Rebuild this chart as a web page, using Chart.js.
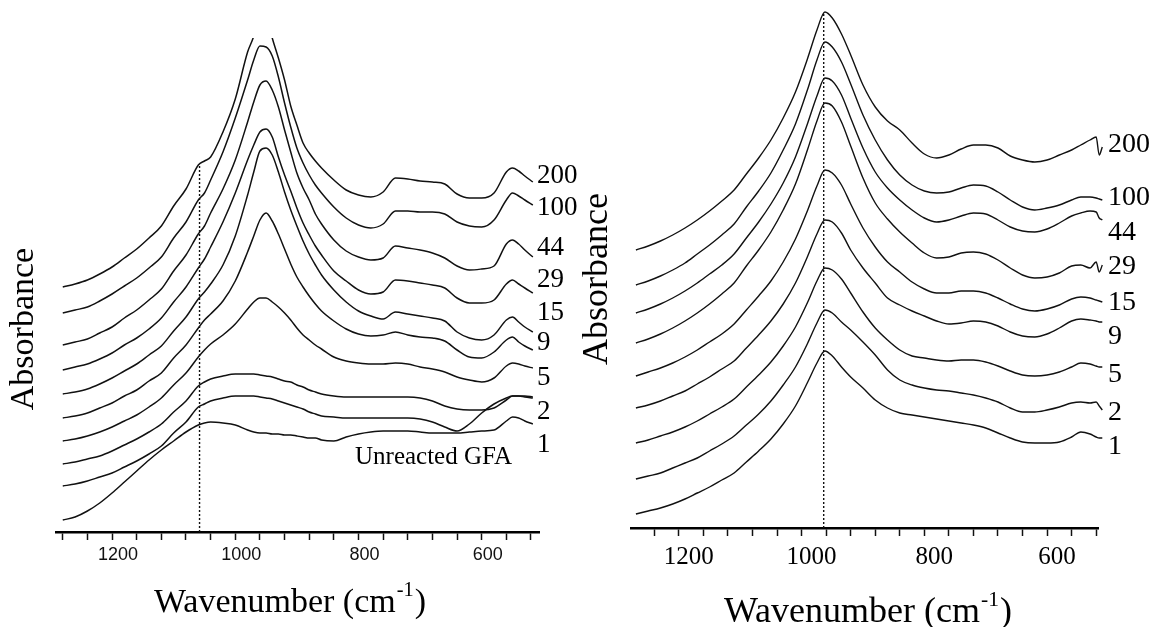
<!DOCTYPE html>
<html><head><meta charset="utf-8">
<script src="https://cdn.jsdelivr.net/npm/chart.js@4.4.1/dist/chart.umd.min.js"></script>
<style>
html,body{margin:0;padding:0;background:#fff;}
#wrap{position:relative;width:1165px;height:627px;overflow:hidden;background:#fff;}
#c1{position:absolute;left:0;top:0;}
#c2{position:absolute;left:582px;top:0;}
</style></head><body>
<div id="wrap">
<canvas id="c1" width="582" height="627"></canvas>
<canvas id="c2" width="583" height="627"></canvas>
</div>
<script>
// ---------- LEFT PANEL DATA (offset-stacked absorbance, arbitrary units) ----------
const leftWavenumbers = [1280,1260,1240,1220,1200,1180,1160,1140,1120,1100,1080,1060,1050,1040,1020,1000,980,970,960,950,940,930,920,910,900,890,880,870,860,840,820,800,780,760,740,720,700,680,660,640,620,600,580,560,550,540,530,517];
const left_200 = [245,248,252,258,265,274,283,294,306,326,343,367,371,375,400,433,480,496,522,518,494,474,452,426,407,389,379,371,364,352,342,337,335,340,354,353,351,350,348,338,334,334,339,360,364,361,356,350];
const left_100 = [219,222,225,231,238,246,254,264,275,294,310,332,339,352,380,414,452,472,486,485,476,455,429,405,384,369,357,347,339,325,314,307,304,308,321,321,320,320,318,310,306,305,312,332,339,336,332,327];
const left_44  = [187,190,193,199,205,214,222,232,243,261,277,298,306,319,343,372,410,430,447,451,442,425,402,380,359,344,332,318,308,292,281,275,272,274,286,284,282,279,274,266,262,263,266,288,292,288,282,275];
const left_29  = [162,165,168,173,179,187,194,203,214,230,245,264,273,285,310,339,372,387,400,403,395,375,357,341,324,309,297,286,277,261,251,242,238,240,252,251,249,247,244,234,229,229,232,248,252,248,244,239];
const left_15  = [138,140,143,148,154,161,168,177,186,201,215,233,240,248,267,296,337,360,381,384,377,360,340,322,306,291,278,267,257,242,230,221,216,213,220,218,216,214,211,200,194,192,197,212,215,210,205,200];
const left_9   = [114,116,119,124,129,136,142,151,159,174,187,204,212,218,231,251,280,296,312,319,311,298,283,268,255,245,236,228,221,211,203,198,196,197,200,197,195,194,191,182,175,174,180,192,195,190,186,182];
const left_5   = [91,93,96,100,105,111,117,125,134,147,159,175,182,188,197,208,223,230,234,234,230,225,219,212,204,197,192,187,183,175,171,169,168,168,169,168,165,163,160,155,152,150,154,166,169,168,166,164];
const left_2   = [68,70,73,76,81,87,93,100,108,120,131,146,150,153,156,158,158,158,157,156,155,153,151,150,147,145,142,140,138,136,135,135,135,135,135,135,134,131,126,123,122,122,124,132,136,136,135,134];
const left_1   = [46,48,51,55,59,65,71,78,86,99,110,125,128,131,134,136,136,136,135,134,133,131,129,127,125,123,120,118,116,115,114,114,114,114,114,114,113,110,105,101,108,119,128,134,136,136,136,135];
const left_GFA = [12,15,21,29,39,50,61,72,82,91,100,107,109,110,109,107,102,100,99,99,98,98,97,97,96,95,94,94,92,91,95,98,100,101,101,101,100,99,99,99,100,101,102,111,115,114,111,108];
const leftSeriesLabels = ['200','100','44','29','15','9','5','2','1'];
const leftTickValues = [1280,1240,1200,1160,1120,1080,1040,1000,960,920,880,840,800,760,720,680,640,600,560,520];
const leftMarker = 1058;      // dotted reference line (cm-1)
const leftMarkerTop = 367;    // height where it meets the top spectrum

// ---------- RIGHT PANEL DATA ----------
const rightWavenumbers = [1270,1250,1230,1210,1190,1170,1150,1130,1110,1090,1070,1050,1030,1010,990,975,962,950,935,920,900,880,860,840,820,800,780,760,740,720,700,680,660,640,620,600,580,560,545,530,520,515,510];
const right_200 = [278,282,287,293,300,308,317,327,338,354,370,388,410,436,470,498,516,510,494,473,443,421,407,398,385,374,370,373,379,383,383,380,372,368,366,368,373,378,383,388,391,373,381];
const right_100 = [243,247,252,258,265,274,283,293,304,321,337,355,378,404,439,468,486,481,466,444,413,388,368,353,343,337,335,336,340,343,342,336,328,321,318,320,323,328,331,331,330,329,328];
const right_44  = [215,219,224,230,237,245,254,263,274,290,306,324,345,371,405,432,450,447,433,410,380,356,340,328,318,310,306,308,312,315,314,308,301,297,296,299,305,312,315,317,316,310,308];
const right_29  = [185,189,194,200,207,215,224,234,245,262,278,296,318,344,379,407,425,422,406,382,350,325,309,296,285,275,270,271,275,276,274,268,260,253,250,251,255,262,263,260,266,256,263];
const right_15  = [152,156,160,165,171,178,186,194,204,218,232,247,266,289,318,342,358,355,343,324,300,281,266,256,246,239,235,235,237,237,235,230,224,219,217,219,223,229,231,230,228,227,226];
const right_9   = [120,123,127,132,137,144,151,159,167,180,193,207,224,245,272,294,308,306,295,278,260,245,230,223,217,212,207,204,205,207,206,202,196,192,191,194,200,207,209,208,207,206,206];
const right_5   = [85,88,92,96,101,107,114,121,129,141,153,166,182,201,226,247,260,258,249,235,216,200,188,178,172,170,168,167,168,168,166,162,157,153,152,153,156,161,165,164,162,161,161];
const right_2   = [49,52,55,60,65,70,77,84,92,103,114,127,143,161,185,205,218,215,206,198,186,173,158,148,143,140,138,137,135,133,130,126,120,116,116,118,121,125,126,125,126,122,118];
const right_1   = [14,17,20,24,29,35,41,48,55,66,77,89,104,122,146,165,177,172,161,151,140,128,120,115,113,111,109,107,105,103,100,95,90,86,85,85,86,91,96,94,91,90,90];
const rightSeriesLabels = ['200','100','44','29','15','9','5','2','1'];
const rightTickValues = [1240,1200,1160,1120,1080,1040,1000,960,920,880,840,800,760,720,680,640,600,560,520];
const rightMarker = 964;
const rightMarkerTop = 516;

// ---------- helpers ----------
function toXY(xs, ys){ return xs.map((w,i)=>({x:w, y:ys[i]})); }

const textPlugin = {
  id: 'panelText',
  afterDraw(chart, args, opts) {
    const ctx = chart.ctx;
    (opts.items || []).forEach(it => {
      ctx.save();
      ctx.fillStyle = '#000';
      ctx.textBaseline = 'middle';
      ctx.translate(it.x, it.y);
      if (it.rotate) ctx.rotate(it.rotate);
      if (it.sup) {
        const f = (s)=> s + 'px "Liberation Serif", "Times New Roman", serif';
        ctx.font = f(it.size);
        const w1 = ctx.measureText(it.text).width;
        const w3 = ctx.measureText(it.tail).width;
        ctx.font = f(it.size*0.6);
        const w2 = ctx.measureText(it.sup).width;
        const total = w1 + w2 + w3 + 2;
        let x0 = -total/2;
        ctx.textAlign = 'left';
        ctx.font = f(it.size);
        ctx.fillText(it.text, x0, 0);
        ctx.font = f(it.size*0.6);
        ctx.fillText(it.sup, x0 + w1 + 1, -it.size*0.36);
        ctx.font = f(it.size);
        ctx.fillText(it.tail, x0 + w1 + w2 + 2, 0);
      } else {
        ctx.font = it.size + 'px "Liberation Serif", "Times New Roman", serif';
        ctx.textAlign = it.align || 'left';
        ctx.fillText(it.text, 0, 0);
      }
      ctx.restore();
    });
  }
};

function spectrum(data, width){
  return {data, borderColor:'#111', borderWidth:width, pointRadius:0, fill:false,
          cubicInterpolationMode:'monotone'};
}

// ---------- LEFT CHART ----------
const leftSeries = [left_200,left_100,left_44,left_29,left_15,left_9,left_5,left_2,left_1,left_GFA];
const leftLabelY = [176,208,248,280,313,343,378,412,445];
const leftItems = leftSeriesLabels.map((t,i)=>({text:t, x:537, y:leftLabelY[i], size:27}));
leftItems.push({text:'Unreacted GFA', x:355, y:457, size:25});
leftItems.push({text:'Absorbance', x:24, y:329, size:34, align:'center', rotate:-Math.PI/2});
leftItems.push({text:'Wavenumber (cm', sup:'-1', tail:')', x:290, y:603, size:34});

new Chart(document.getElementById('c1'), {
  type:'line',
  data:{datasets:[
    ...leftSeries.map(s=>spectrum(toXY(leftWavenumbers,s),1.5)),
    {data:[{x:leftMarker,y:0},{x:leftMarker,y:leftMarkerTop}], borderColor:'#111', borderWidth:1.4, borderDash:[2,2], pointRadius:0, tension:0}
  ]},
  options:{
    responsive:false, animation:false, devicePixelRatio:1,
    layout:{padding:{left:56, right:43, top:38, bottom:0}},
    plugins:{legend:{display:false}, tooltip:{enabled:false}, panelText:{items:leftItems}},
    scales:{
      x:{type:'linear', reverse:true, min:507, max:1291,
         afterBuildTicks:s=>{ s.ticks = leftTickValues.map(v=>({value:v})); },
         afterFit:s=>{ s.height = 95; },
         ticks:{autoSkip:false, maxRotation:0, minRotation:0, padding:4, labelOffset:6, color:'#111',
                font:{family:'"Liberation Sans", Arial, sans-serif', size:18},
                callback:v=> (v % 200 === 0 ? String(v) : '')},
         grid:{display:true, drawOnChartArea:false, drawTicks:true, tickLength:8, tickWidth:1.5, tickColor:'#111'},
         border:{display:true, color:'#000', width:2.5}},
      y:{display:false, min:0, max:494}
    }
  },
  plugins:[textPlugin]
});

// ---------- RIGHT CHART ----------
const rightSeries = [right_200,right_100,right_44,right_29,right_15,right_9,right_5,right_2,right_1];
const rightLabelY = [145,198,233,267,303,337,375,413,447];
const rightItems = rightSeriesLabels.map((t,i)=>({text:t, x:526, y:rightLabelY[i], size:28}));
rightItems.push({text:'Absorbance', x:16, y:279, size:36, align:'center', rotate:-Math.PI/2});
rightItems.push({text:'Wavenumber (cm', sup:'-1', tail:')', x:286, y:613, size:36});

new Chart(document.getElementById('c2'), {
  type:'line',
  data:{datasets:[
    ...rightSeries.map(s=>Object.assign(spectrum(toXY(rightWavenumbers,s),1.4),{clip:{left:10,top:10,right:12,bottom:0}})),
    {data:[{x:rightMarker,y:0},{x:rightMarker,y:rightMarkerTop}], borderColor:'#111', borderWidth:1.4, borderDash:[2,2], pointRadius:0, tension:0}
  ]},
  options:{
    responsive:false, animation:false, devicePixelRatio:1,
    layout:{padding:{left:49, right:67, top:8, bottom:0}},
    plugins:{legend:{display:false}, tooltip:{enabled:false}, panelText:{items:rightItems}},
    scales:{
      x:{type:'linear', reverse:true, min:517, max:1278,
         afterBuildTicks:s=>{ s.ticks = rightTickValues.map(v=>({value:v})); },
         afterFit:s=>{ s.height = 99; },
         ticks:{autoSkip:false, maxRotation:0, minRotation:0, padding:6, labelOffset:10, color:'#000',
                font:{family:'"Liberation Serif", "Times New Roman", serif', size:25},
                callback:v=> (v % 200 === 0 ? String(v) : '')},
         grid:{display:true, drawOnChartArea:false, drawTicks:true, tickLength:8, tickWidth:1.5, tickColor:'#111'},
         border:{display:true, color:'#000', width:2.5}},
      y:{display:false, min:0, max:520}
    }
  },
  plugins:[textPlugin]
});
</script>
</body></html>
